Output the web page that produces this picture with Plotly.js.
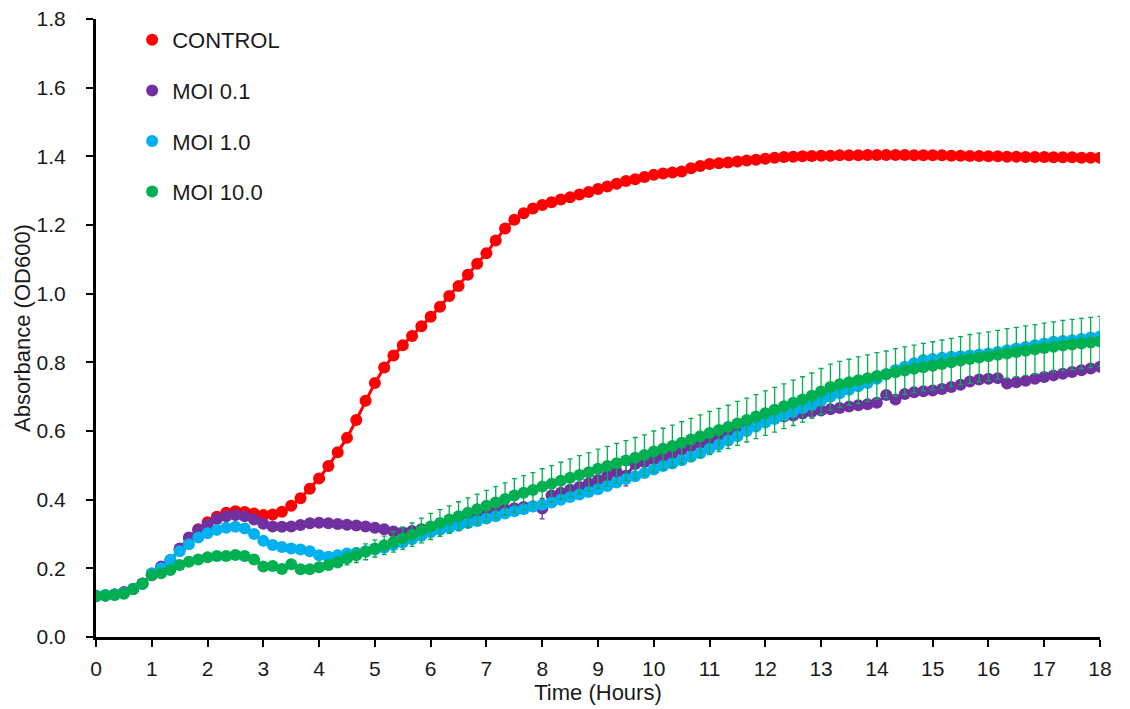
<!DOCTYPE html>
<html>
<head>
<meta charset="utf-8">
<script src="https://cdn.plot.ly/plotly-3.0.1.min.js"></script>
<style>html,body{margin:0;padding:0;background:#fff}#chart{width:1130px;height:709px}</style>
</head>
<body>
<div id="chart"></div>
<script>
// Sampling times (minutes)
const minutes = [0,10,20,30,40,50,60,70,80,90,100,110,120,130,140,150,160,170,180,190,200,210,220,230,240,250,260,270,280,290,300,310,320,330,340,350,360,370,380,390,400,410,420,430,440,450,460,470,480,490,500,510,520,530,540,550,560,570,580,590,600,610,620,630,640,650,660,670,680,690,700,710,720,730,740,750,760,770,780,790,800,810,820,830,840,850,860,870,880,890,900,910,920,930,940,950,960,970,980,990,1000,1010,1020,1030,1040,1050,1060,1070,1080];

const seriesNames = ["CONTROL", "MOI 0.1", "MOI 1.0", "MOI 10.0"];

const control = [0.120,0.121,0.124,0.130,0.140,0.155, 0.180,0.200,0.222,0.255,0.288,0.314,
 0.334,0.350,0.362,0.366,0.364,0.360, 0.355,0.357,0.365,0.382,0.404,0.432,
 0.462,0.498,0.538,0.580,0.632,0.688, 0.740,0.785,0.820,0.850,0.877,0.905,
 0.933,0.962,0.993,1.022,1.055,1.087, 1.118,1.155,1.190,1.215,1.234,1.248,
 1.258,1.266,1.274,1.281,1.289,1.296, 1.305,1.312,1.320,1.328,1.333,1.340,
 1.346,1.350,1.353,1.356,1.365,1.372, 1.378,1.380,1.382,1.385,1.388,1.390,
 1.393,1.396,1.398,1.399,1.400,1.401, 1.402,1.402,1.403,1.403,1.403,1.404,
 1.404,1.404,1.404,1.404,1.403,1.403, 1.403,1.403,1.402,1.402,1.401,1.401,
 1.400,1.400,1.399,1.399,1.398,1.398, 1.398,1.397,1.397,1.397,1.396,1.396, 1.396];

const moi01 = [0.120,0.121,0.124,0.130,0.140,0.156, 0.185,0.205,0.222,0.258,0.290,0.312,
 0.328,0.344,0.352,0.355,0.352,0.342, 0.330,0.322,0.321,0.322,0.326,0.331,
 0.333,0.331,0.329,0.327,0.325,0.322, 0.318,0.314,0.307,0.305,0.309,0.314,
 0.318,0.322,0.327,0.333,0.342,0.354, 0.364,0.369,0.372,0.375,0.379,0.381,
 0.374,0.412,0.420,0.429,0.437,0.447, 0.457,0.469,0.481,0.470,0.504,0.510,
 0.517,0.524,0.534,0.545,0.555,0.565, 0.575,0.585,0.595,0.605,0.615,0.626,
 0.632,0.638,0.642,0.645,0.651,0.656, 0.660,0.663,0.667,0.671,0.675,0.678,
 0.682,0.705,0.692,0.708,0.713,0.716, 0.718,0.722,0.728,0.735,0.744,0.750,
 0.752,0.754,0.738,0.742,0.746,0.752, 0.757,0.762,0.767,0.772,0.777,0.782, 0.787];

const moi10 = [0.120,0.122,0.124,0.128,0.140,0.155, 0.185,0.200,0.225,0.250,0.270,0.290,
 0.302,0.312,0.318,0.321,0.316,0.300, 0.280,0.268,0.262,0.258,0.255,0.250,
 0.238,0.234,0.238,0.243,0.245,0.250, 0.255,0.260,0.268,0.275,0.285,0.295,
 0.305,0.312,0.318,0.325,0.332,0.338, 0.345,0.352,0.360,0.366,0.372,0.380,
 0.385,0.392,0.400,0.408,0.415,0.422, 0.430,0.440,0.450,0.460,0.468,0.478,
 0.488,0.498,0.505,0.515,0.525,0.535, 0.548,0.560,0.572,0.585,0.600,0.613,
 0.625,0.635,0.645,0.655,0.666,0.676, 0.688,0.700,0.710,0.720,0.730,0.740,
 0.752,0.765,0.778,0.787,0.797,0.807, 0.810,0.813,0.816,0.818,0.820,0.823,
 0.826,0.830,0.835,0.840,0.845,0.850, 0.855,0.860,0.862,0.864,0.868,0.872, 0.875];

const moi100 = [0.118,0.120,0.122,0.126,0.140,0.155, 0.180,0.186,0.195,0.210,0.219,0.226,
 0.232,0.236,0.236,0.239,0.236,0.226, 0.205,0.207,0.198,0.212,0.197,0.197,
 0.203,0.210,0.218,0.229,0.238,0.248, 0.258,0.267,0.277,0.287,0.298,0.310,
 0.322,0.332,0.342,0.352,0.362,0.372, 0.382,0.392,0.402,0.412,0.420,0.428,
 0.438,0.446,0.455,0.464,0.472,0.480, 0.490,0.498,0.506,0.514,0.522,0.530,
 0.540,0.548,0.556,0.566,0.575,0.585, 0.594,0.603,0.612,0.622,0.632,0.642,
 0.652,0.662,0.672,0.682,0.692,0.703, 0.715,0.728,0.736,0.742,0.748,0.754,
 0.760,0.765,0.771,0.776,0.781,0.786, 0.790,0.795,0.800,0.805,0.810,0.814,
 0.818,0.822,0.826,0.830,0.834,0.838, 0.842,0.845,0.849,0.852,0.855,0.858, 0.861];

// Standard deviations (error bars)
const controlErr = [0.004,0.004,0.004,0.004,0.004,0.004, 0.004,0.004,0.004,0.004,0.004,0.004,
 0.004,0.004,0.004,0.004,0.004,0.004, 0.012,0.012,0.012,0.012,0.012,0.012,
 0.012,0.012,0.012,0.012,0.012,0.012, 0.012,0.012,0.012,0.012,0.012,0.012,
 0.012,0.012,0.012,0.012,0.012,0.012, 0.012,0.012,0.012,0.012,0.012,0.012,
 0.012,0.012,0.012,0.012,0.012,0.012, 0.005,0.005,0.005,0.005,0.005,0.005,
 0.005,0.005,0.005,0.005,0.005,0.005, 0.005,0.005,0.005,0.005,0.005,0.005,
 0.005,0.005,0.005,0.005,0.005,0.005, 0.005,0.005,0.005,0.005,0.005,0.005,
 0.005,0.005,0.005,0.005,0.005,0.005, 0.005,0.005,0.005,0.005,0.005,0.005,
 0.005,0.005,0.005,0.005,0.005,0.005, 0.005,0.005,0.005,0.005,0.005,0.005, 0.005];

const moi01Err = [0.004,0.004,0.004,0.004,0.004,0.004, 0.004,0.004,0.004,0.004,0.004,0.004,
 0.004,0.004,0.004,0.004,0.004,0.004, 0.005,0.005,0.005,0.005,0.005,0.005,
 0.005,0.005,0.005,0.005,0.005,0.005, 0.005,0.005,0.005,0.005,0.005,0.005,
 0.005,0.005,0.005,0.005,0.005,0.005, 0.006,0.006,0.006,0.006,0.006,0.006,
 0.030,0.006,0.006,0.006,0.006,0.006, 0.006,0.006,0.006,0.030,0.006,0.006,
 0.006,0.006,0.006,0.006,0.006,0.006, 0.006,0.006,0.006,0.006,0.006,0.006,
 0.006,0.006,0.006,0.006,0.006,0.006, 0.006,0.006,0.006,0.006,0.006,0.006,
 0.006,0.012,0.006,0.006,0.006,0.006, 0.006,0.006,0.006,0.006,0.006,0.006,
 0.006,0.006,0.010,0.006,0.006,0.006, 0.006,0.006,0.006,0.006,0.006,0.006, 0.006];

const moi10Err = [0.004,0.004,0.004,0.004,0.004,0.004, 0.004,0.004,0.004,0.004,0.004,0.004,
 0.004,0.004,0.004,0.004,0.004,0.004, 0.005,0.005,0.005,0.005,0.005,0.005,
 0.005,0.005,0.005,0.005,0.005,0.005, 0.005,0.005,0.005,0.005,0.005,0.005,
 0.005,0.005,0.005,0.005,0.005,0.005, 0.006,0.006,0.006,0.006,0.006,0.006,
 0.006,0.006,0.006,0.006,0.006,0.006, 0.006,0.006,0.006,0.006,0.006,0.006,
 0.006,0.006,0.006,0.006,0.006,0.006, 0.006,0.006,0.006,0.006,0.006,0.006,
 0.006,0.006,0.006,0.006,0.006,0.006, 0.006,0.006,0.006,0.006,0.006,0.006,
 0.006,0.006,0.006,0.006,0.006,0.006, 0.006,0.006,0.006,0.006,0.006,0.006,
 0.006,0.006,0.006,0.006,0.006,0.006, 0.006,0.006,0.006,0.006,0.006,0.006, 0.006];

const moi100Err = [0.004,0.004,0.004,0.004,0.004,0.004, 0.005,0.005,0.005,0.005,0.005,0.005,
 0.006,0.006,0.006,0.006,0.006,0.006, 0.007,0.007,0.008,0.008,0.009,0.010,
 0.012,0.014,0.016,0.019,0.021,0.023, 0.025,0.027,0.030,0.032,0.034,0.036,
 0.038,0.039,0.040,0.042,0.043,0.044, 0.045,0.046,0.047,0.049,0.050,0.051,
 0.052,0.053,0.054,0.055,0.056,0.056, 0.057,0.057,0.058,0.058,0.059,0.059,
 0.060,0.060,0.061,0.061,0.062,0.062, 0.063,0.063,0.063,0.064,0.064,0.064,
 0.065,0.065,0.065,0.066,0.066,0.066, 0.067,0.067,0.067,0.067,0.068,0.068,
 0.068,0.068,0.069,0.069,0.069,0.069, 0.070,0.070,0.070,0.070,0.071,0.071,
 0.071,0.071,0.072,0.072,0.072,0.072, 0.072,0.073,0.073,0.073,0.073,0.073, 0.073];

const xTickVals = [0,1,2,3,4,5,6,7,8,9,10,11,12,13,14,15,16,17,18];
const yTickVals = [0,0.2,0.4,0.6,0.8,1.0,1.2,1.4,1.6,1.8];

const hours = minutes.map(m => m / 60);
const colors = ["#FF0000", "#7030A0", "#00B0F0", "#00B050"];
const ys = [control, moi01, moi10, moi100];
const errs = [controlErr, moi01Err, moi10Err, moi100Err];

const traces = [];
ys.forEach((y, k) => {
  traces.push({
    type: "scatter", mode: "lines", showlegend: false, hoverinfo: "skip",
    x: hours, y: y, line: {color: colors[k], width: 3}
  });
  traces.push({
    type: "scatter", mode: "markers",
    name: seriesNames[k], legendgroup: "g" + k,
    x: hours, y: y,
    marker: {color: colors[k], size: 12, line: {width: 0}},
    error_y: {type: "data", array: errs[k], visible: true, color: colors[k], thickness: 1.3, width: 2.5}
  });
});

const font = "Arial, 'Liberation Sans', sans-serif";
const txt = "#1a1a1a";

const layout = {
  width: 1130, height: 709,
  margin: {l: 96, r: 30, t: 19, b: 72},
  paper_bgcolor: "#fff", plot_bgcolor: "#fff",
  font: {family: font, color: txt, size: 20},
  showlegend: true,
  legend: {
    x: 0.036, y: 1.0, xanchor: "left", yanchor: "top",
    bgcolor: "rgba(0,0,0,0)", borderwidth: 0,
    font: {family: font, size: 22, color: txt},
    traceorder: "grouped", tracegroupgap: 19
  },
  xaxis: {
    range: [0, 18], tickvals: xTickVals, ticktext: xTickVals.map(String),
    showgrid: false, zeroline: false,
    showline: true, linecolor: "#000", linewidth: 3,
    ticks: "outside", ticklen: 7, tickwidth: 2, tickcolor: "#000",
    ticklabelstandoff: 4,
    tickfont: {family: font, size: 21, color: txt},
    title: {text: "Time (Hours)", font: {family: font, size: 22, color: txt}, standoff: 2}
  },
  yaxis: {
    range: [0, 1.8], tickvals: yTickVals, tickformat: ".1f",
    showgrid: false, zeroline: false,
    showline: true, linecolor: "#000", linewidth: 3,
    ticks: "outside", ticklen: 7, tickwidth: 2, tickcolor: "#000",
    ticklabelstandoff: 16,
    tickfont: {family: font, size: 21, color: txt},
    title: {text: "Absorbance (OD600)", font: {family: font, size: 22, color: txt}, standoff: 0}
  }
};

Plotly.newPlot("chart", traces, layout, {displayModeBar: false, staticPlot: true});
</script>
</body>
</html>
